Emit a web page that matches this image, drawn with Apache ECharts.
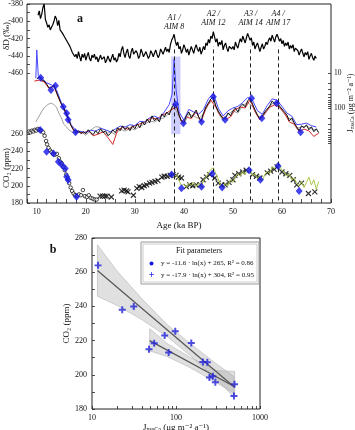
<!DOCTYPE html>
<html>
<head>
<meta charset="utf-8">
<script src="https://cdn.jsdelivr.net/npm/echarts@6/dist/echarts.min.js"></script>
<style>
html, body { margin: 0; padding: 0; background: #fff; }
#chart { width: 355px; height: 430px; }
</style>
</head>
<body>
<div id="chart"></div>
<script>
const SERIF = '"Liberation Serif", "DejaVu Serif", serif'

// ---------- panel a ----------
// EDML dD (permil), every 0.25 ka from 10.25 ka
const dDStart = 10.25
const dDStep = 0.25
const dD = [-393, -388, -397, -392, -384, -380, -398, -402,
    -407, -404, -410, -407, -404, -400, -394, -397,
    -405, -399, -410, -408, -414, -412, -419, -417,
    -424, -422, -429, -430, -436, -434, -441, -438,
    -443, -435, -441, -446, -438, -442, -437, -445,
    -440, -436, -443, -446, -439, -442, -438, -444,
    -441, -447, -443, -439, -444, -446, -441, -448,
    -445, -440, -444, -447, -442, -438, -445, -442,
    -447, -444, -437, -441, -433, -429, -437, -442,
    -436, -432, -440, -443, -435, -431, -438, -440,
    -434, -437, -443, -440, -432, -436, -441, -438,
    -435, -439, -443, -440, -434, -437, -441, -437,
    -433, -438, -442, -439, -432, -435, -438, -434,
    -430, -435, -432, -436, -427, -422, -419, -415,
    -423, -428, -424, -432, -429, -437, -433, -427,
    -431, -436, -432, -439, -434, -429, -433, -437,
    -431, -427, -432, -435, -430, -438, -434, -429,
    -433, -425, -428, -421, -425, -417, -420, -412,
    -418, -424, -420, -429, -424, -427, -422, -433,
    -428, -425, -431, -435, -429, -427, -432, -429,
    -433, -424, -428, -431, -425, -420, -424, -417,
    -421, -425, -419, -414, -418, -422, -419, -428,
    -424, -432, -428, -425, -430, -435, -430, -426,
    -432, -429, -424, -427, -422, -419, -423, -416,
    -420, -424, -418, -415, -419, -423, -420, -426,
    -422, -429, -425, -428, -424, -432, -428, -431,
    -427, -435, -431, -429, -434, -439, -435, -432,
    -437, -441, -436, -439, -435, -444, -440, -437,
    -442, -445, -440, -443]

// J nssCa (ug m-2 a-1), black record every 0.5 ka from 10 ka
const jStart = 10
const jBlack = [14.8, 13, 15.8, 16.9, 20.6, 26.8, 25.1, 22, 34.9, 51.8,
    76.8, 100, 148, 218, 323, 419, 509, 447, 543, 477,
    543, 419, 509, 580, 447, 543, 392, 509, 447, 619,
    543, 419, 509, 368, 447, 323, 419, 344, 447, 323,
    392, 283, 368, 249, 302, 205, 265, 168, 233, 192,
    249, 148, 180, 130, 158, 100, 77, 88, 158, 233,
    265, 168, 130, 192, 148, 114, 180, 233, 138, 93.5,
    72, 55, 48.5, 88, 122, 158, 205, 192, 138, 168,
    122, 100, 130, 88, 77, 93.5, 63, 52, 77, 114,
    158, 205, 168, 130, 107, 88, 63, 77, 67, 88,
    107, 130, 158, 233, 192, 265, 344, 447, 323, 368,
    302, 419, 344, 477, 392, 509]

const jRed = [[9.5, 17], [10.5, 16], [11.5, 18], [12.5, 28], [13.5, 24], [14.5, 55], [15.5, 105], [16.5, 230],
    [17.5, 440], [18.5, 480], [19.5, 520], [20.5, 450], [21.5, 620], [22.5, 560], [23.5, 480], [24.5, 700],
    [25.5, 1100], [26.5, 420], [27.5, 360], [28.5, 400], [29.5, 350], [30.5, 300], [31.5, 270], [32.5, 230],
    [33.5, 190], [34.5, 210], [35.5, 160], [36.5, 140], [37.5, 110], [38.5, 95], [39.5, 250], [40.5, 180],
    [41.5, 200], [42.5, 130], [43.5, 250], [44.5, 100], [45.5, 60], [46.5, 95], [47.5, 170], [48.5, 210],
    [49.5, 180], [50.5, 110], [51.5, 95], [52.5, 100], [53.5, 58], [54.5, 125], [55.5, 220], [56.5, 140],
    [57.5, 95], [58.5, 82], [59.5, 95], [60.5, 140], [61.5, 250], [62.5, 290], [63.5, 470], [64.5, 400],
    [65.5, 450], [66.5, 650], [67.5, 520]]

const jBlue = [[9.8, 14], [10.0, 2.2], [10.3, 12], [11, 14], [12, 19], [13, 22], [14, 30], [15, 70], [16, 130],
    [17, 300], [18, 450], [19, 470], [20, 500], [21, 430], [22, 460], [23, 380], [24, 420], [25, 480],
    [26, 400], [27, 330], [28, 350], [29, 300], [30, 320], [31, 240], [32, 250], [33, 190], [34, 170],
    [35, 200], [36, 130], [37, 80], [37.6, 40], [38.0, 4], [38.4, 30], [39, 130], [40, 220], [41, 110],
    [42, 130], [43, 150], [44, 110], [45, 55], [46, 38], [47, 100], [48, 170], [49, 120], [50, 100],
    [51, 90], [52, 70], [53, 50], [54, 60], [55, 120], [56, 150], [57, 85], [58, 55], [59, 60], [60, 90],
    [61, 140], [62, 170], [63, 300], [64, 290], [65, 270], [66, 320], [67, 350]]

const jGrey = [[9.8, 249], [10.5, 170], [11.0, 125], [11.5, 100], [12.0, 85], [12.5, 76], [13.0, 73], [13.5, 80],
    [14.0, 95], [14.5, 140], [15.0, 190], [15.5, 290], [16.0, 340], [16.5, 420], [17.0, 470], [17.5, 510],
    [18, 540], [19, 470], [20, 600], [21, 430], [22, 340], [23, 360], [24, 560], [25, 480], [26, 570],
    [27, 400], [28, 460], [29, 380], [30, 420], [31, 330], [32, 290], [33, 240], [34, 250], [35, 210],
    [36, 190], [37, 140], [38, 90], [39, 180], [40, 290], [41, 150], [42, 170], [43, 200], [44, 150],
    [45, 80], [46, 55], [47, 140], [48, 230], [49, 150], [50, 120], [51, 140], [52, 85], [53, 70],
    [54, 90], [55, 170], [56, 190], [57, 120], [58, 75], [59, 80], [60, 120], [61, 180], [62, 220],
    [63, 380], [64, 350], [65, 330], [66, 390], [67, 430]]

const jDots = [[10.8, 13.6], [12.9, 30.6], [13.8, 23.1], [15.4, 91.5], [16.1, 141], [16.4, 218], [17.9, 493],
    [38.3, 78], [39.9, 274], [43.6, 247], [46.0, 47.5], [48.4, 218], [53.8, 53], [55.9, 197], [58.9, 73], [63.8, 493]]

// CO2 (ppm)
const co2Circles = [[8.4, 263], [8.7, 262], [9.0, 264], [9.3, 263], [9.6, 265], [9.9, 264], [10.2, 266], [10.5, 265],
    [10.9, 264], [11.3, 262], [11.6, 258], [11.9, 252], [12.1, 248], [12.4, 244], [12.7, 241], [13.0, 239],
    [13.3, 237], [13.7, 236], [14.1, 237], [14.5, 232], [14.8, 228], [15.1, 226], [15.4, 222], [15.7, 218],
    [16.0, 213], [16.3, 208], [16.6, 203], [16.9, 198], [17.2, 194], [17.5, 191], [17.8, 189], [18.2, 188],
    [18.6, 190], [19.0, 189], [19.4, 195], [19.8, 188], [20.2, 187], [20.6, 189], [21.0, 186], [21.4, 185],
    [21.8, 184], [22.2, 184]]

const co2Crosses = [[22.9, 188], [23.4, 188], [23.9, 188], [24.3, 188], [25.2, 187], [27.3, 194], [27.8, 195],
    [28.3, 194], [28.6, 193], [29.7, 189], [30.4, 197], [30.9, 199], [31.4, 198], [31.9, 200], [32.4, 201],
    [33, 203], [33.5, 204], [34.1, 205], [34.7, 206], [35.5, 210], [36, 211], [36.6, 211], [37.2, 212],
    [37.8, 213], [38.4, 212], [38.9, 210], [39.5, 209], [40.5, 199], [41.2, 201], [41.8, 200], [42.5, 201],
    [43.3, 201], [43.9, 207], [44.6, 210], [45.3, 213], [46.3, 209], [47, 203], [47.7, 201], [48.4, 201],
    [49.2, 204], [50, 207], [50.4, 212], [51.2, 214], [52, 216], [52.7, 218], [54, 213], [54.8, 211],
    [55.5, 209], [57, 215], [57.7, 217], [58.4, 219], [59, 222], [60, 216], [60.8, 214], [61.6, 212],
    [62.3, 207], [63, 201], [64, 203], [65.4, 191], [66.7, 193]]

const co2Green = [[37, 212], [37.5, 216], [38, 210], [38.5, 213], [39, 206], [39.5, 200], [40, 202], [40.5, 198],
    [41, 203], [41.5, 200], [42, 204], [42.5, 199], [43, 203], [43.5, 198], [44, 206], [44.5, 210], [45, 215],
    [45.5, 219], [46, 221], [46.5, 214], [47, 208], [47.5, 200], [48, 197], [48.5, 203], [49, 200], [49.5, 207],
    [50, 204], [50.5, 210], [51, 214], [51.5, 211], [52, 217], [52.5, 213], [53, 220], [53.5, 218], [54, 212],
    [54.5, 214], [55, 208], [55.5, 212], [56, 206], [56.5, 213], [57, 217], [57.5, 214], [58, 222], [58.5, 220],
    [59, 226], [59.5, 224], [60, 218], [60.5, 216], [61, 211], [61.5, 214], [62, 207], [62.5, 209], [63, 203],
    [63.5, 200], [64, 205], [64.5, 198], [65, 204], [65.5, 210], [66, 201], [66.5, 207], [67, 196], [67.5, 205]]

const co2Dots = [[10.7, 264.6], [12.0, 239.5], [13.4, 237.6], [14.4, 228], [15.1, 224], [15.8, 220], [16.1, 210.5],
    [16.4, 206.7], [18.1, 187.3], [37.5, 213], [39.5, 197], [43.6, 199], [45.8, 214], [47.8, 198], [53.3, 218],
    [55.6, 207], [59.2, 223], [63.5, 194]]

// Antarctic warm events
const events = ['A1 /\nAIM 8', 'A2 /\nAIM 12', 'A3 /\nAIM 14', 'A4 /\nAIM 17']
const eventAge = [38.0, 46.0, 53.6, 59.2]

// tick labels
const ageLabels = [10, 20, 30, 40, 50, 60, 70]
const dDLabels = [-380, -400, -420, -440, -460]
const co2Labels = [180, 200, 220, 240, 260]
const jLabels = [10, 100]
const jTicks = [10, 20, 30, 40, 50, 60, 70, 80, 90, 100, 200, 300, 400, 500, 600, 700, 800, 900, 1000]

// ---------- panel b ----------
const bPoints = [[11.8, 264], [22.9, 238], [31.4, 240], [47.7, 215], [55, 218.4], [73.3, 223], [81.8, 213],
    [98, 225.5], [152, 218.6], [209, 207.5], [236, 207.3], [250, 198.4], [275, 199.2], [294, 195.7],
    [497, 194.5], [490, 187.6]]
const fit1 = [[11.6, 261], [490, 193]]
const fit2 = [[48.6, 220], [500, 193]]
const band1X = [11.6, 20, 40, 80, 150, 300, 490]
const band1Lo = [246, 240.5, 232, 222, 211, 197.5, 187]
const band1Hi = [276, 260.5, 244, 229, 218, 206.5, 199]
const band2X = [48.6, 80, 150, 300, 500]
const band2Lo = [214, 210.5, 204, 195.5, 189]
const band2Hi = [227, 218, 210, 202.5, 202]
const bTicksX = [10, 20, 30, 40, 50, 60, 70, 80, 90, 100, 200, 300, 400, 500, 600, 700, 800, 900, 1000]
const bLabelsX = [10, 100, 1000]
const fitText = ['y = -11.6 \u00b7 ln(x) + 265, R\u00b2 = 0.86', 'y = -17.9 \u00b7 ln(x) + 304, R\u00b2 = 0.95']

const ageTicks = []
for (let a = 8; a <= 70; a += 2) ageTicks.push(a)
const dDTicks = []
for (let v = -380; v >= -460; v -= 10) dDTicks.push(v)
const co2Ticks = []
for (let v = 180; v <= 260; v += 10) co2Ticks.push(v)
const bTicksY = []
for (let v = 180; v <= 280; v += 10) bTicksY.push(v)

const lbl = { color: '#111', fontFamily: SERIF, fontSize: 8, formatter: v => String(v) }
const tick = (vals, len) => ({ show: true, inside: true, length: len, customValues: vals, lineStyle: { color: '#222', width: 0.8 } })
const jName = '{t|J}{s|nssCa}{t| (\u03bcg m\u207b\u00b2 a\u207b\u00b9)}'
const jRich = {
    t: { fontFamily: SERIF, fontSize: 9, fill: '#111', color: '#111' },
    s: { fontFamily: SERIF, fontSize: 6, fill: '#111', color: '#111', padding: [4, 0, 0, 0] }
}
const jRichSide = {
    t: { fontFamily: SERIF, fontSize: 8, fill: '#111', color: '#111' },
    s: { fontFamily: SERIF, fontSize: 5.5, fill: '#111', color: '#111', padding: [3, 0, 0, 0] }
}
const center = { align: 'center', verticalAlign: 'middle', textAlign: 'center', textVerticalAlign: 'middle' }
const leftMid = { align: 'left', verticalAlign: 'middle', textAlign: 'left', textVerticalAlign: 'middle' }

// confidence band drawn as one polygon through the axes
const bandSeries = (xs, lo, hi) => ({
    type: 'custom', xAxisIndex: 1, yAxisIndex: 3, silent: true, z: 1,
    data: xs.map((x, i) => [x, lo[i], hi[i]]),
    encode: { x: 0, y: [1, 2] },
    renderItem: (params, api) => {
        if (params.dataIndex !== 0) return
        const pts = []
        xs.forEach((x, i) => pts.push(api.coord([x, hi[i]])))
        for (let i = xs.length - 1; i >= 0; i--) pts.push(api.coord([xs[i], lo[i]]))
        return {
            type: 'polygon', shape: { points: pts },
            style: { fill: 'rgba(165,165,165,0.35)', stroke: '#b4b4b4', lineWidth: 0.6 }
        }
    }
})

const chart = echarts.init(document.getElementById('chart'))
chart.setOption({
    animation: false,
    backgroundColor: '#fff',
    grid: [
        { left: 27, top: 4, width: 304, height: 199, show: true, borderColor: '#222', borderWidth: 1, containLabel: false, outerBoundsMode: 'none' },
        { left: 92, top: 238, width: 168, height: 171, show: true, borderColor: '#222', borderWidth: 1, containLabel: false, outerBoundsMode: 'none' }
    ],
    xAxis: [
        {
            gridIndex: 0, type: 'value', min: 8, max: 70,
            axisLine: { show: false }, splitLine: { show: false },
            axisTick: tick(ageTicks, 4),
            axisLabel: Object.assign({ customValues: ageLabels, margin: 5 }, lbl),
            name: 'Age (ka BP)', nameLocation: 'middle', nameGap: 18,
            nameTextStyle: { fontFamily: SERIF, fontSize: 9, color: '#111' }
        },
        {
            gridIndex: 1, type: 'log', logBase: 10, min: 10, max: 1000,
            axisLine: { show: false }, splitLine: { show: false },
            axisTick: tick(bTicksX, 3),
            axisLabel: Object.assign({ customValues: bLabelsX, margin: 5 }, lbl),
            name: jName, nameLocation: 'middle', nameGap: 11,
            nameTextStyle: { rich: jRich }
        }
    ],
    yAxis: [
        {
            gridIndex: 0, type: 'value', min: -610, max: -380, position: 'left',
            axisLine: { show: false }, splitLine: { show: false },
            axisTick: tick(dDTicks, 3),
            axisLabel: Object.assign({ customValues: dDLabels, margin: 4 }, lbl)
        },
        {
            gridIndex: 0, type: 'value', min: 180, max: 411, position: 'left',
            axisLine: { show: false }, splitLine: { show: false },
            axisTick: tick(co2Ticks, 3),
            axisLabel: Object.assign({ customValues: co2Labels, margin: 4 }, lbl)
        },
        {
            gridIndex: 0, type: 'log', logBase: 10, inverse: true, min: 0.107, max: 51800, position: 'right',
            axisLine: { show: false }, splitLine: { show: false },
            axisTick: tick(jTicks, 3),
            axisLabel: Object.assign({ customValues: jLabels, margin: 3 }, lbl, { fontSize: 7.5 })
        },
        {
            gridIndex: 1, type: 'value', min: 180, max: 280, interval: 20, position: 'left',
            axisLine: { show: false }, splitLine: { show: false },
            axisTick: tick(bTicksY, 3),
            axisLabel: Object.assign({ margin: 5 }, lbl),
            name: 'CO\u2082 (ppm)', nameLocation: 'middle', nameGap: 18,
            nameTextStyle: { fontFamily: SERIF, fontSize: 9, color: '#111' }
        }
    ],
    series: [
        {
            type: 'line', xAxisIndex: 0, yAxisIndex: 0, symbol: 'none',
            data: dD.map((v, i) => [dDStart + i * dDStep, v]),
            lineStyle: { color: '#000', width: 1.2 }
        },
        {
            type: 'line', xAxisIndex: 0, yAxisIndex: 2, symbol: 'none', data: jGrey,
            lineStyle: { color: '#a0a0a0', width: 1 }
        },
        {
            type: 'line', xAxisIndex: 0, yAxisIndex: 2, symbol: 'none', data: jRed,
            lineStyle: { color: '#d42a2a', width: 1 }
        },
        {
            type: 'line', xAxisIndex: 0, yAxisIndex: 2, symbol: 'none', data: jBlue,
            lineStyle: { color: '#4848ff', width: 1 },
            markArea: {
                silent: true,
                itemStyle: { color: 'rgba(130,130,255,0.4)' },
                data: [[{ xAxis: 37.4, yAxis: 3.4 }, { xAxis: 39.3, yAxis: 560 }]]
            }
        },
        {
            type: 'line', xAxisIndex: 0, yAxisIndex: 2, symbol: 'none',
            data: jBlack.map((v, i) => [jStart + i * 0.5, v]),
            lineStyle: { color: '#111', width: 1 }
        },
        {
            type: 'scatter', xAxisIndex: 0, yAxisIndex: 2, data: jDots,
            symbol: 'diamond', symbolSize: [7, 8], itemStyle: { color: '#1515e8' }, z: 5
        },
        {
            type: 'scatter', xAxisIndex: 0, yAxisIndex: 1, data: co2Circles,
            symbol: 'circle', symbolSize: 3.5,
            itemStyle: { color: '#fff', borderColor: '#000', borderWidth: 0.9 }
        },
        {
            type: 'scatter', xAxisIndex: 0, yAxisIndex: 1, data: co2Crosses,
            symbol: 'path://M0,0L10,10M10,0L0,10', symbolSize: 5,
            itemStyle: { color: 'transparent', borderColor: '#000', borderWidth: 1.2 },
            markLine: {
                silent: true, symbol: 'none', animation: false,
                lineStyle: { color: '#222', type: [4, 3], width: 1 },
                label: {
                    show: true, position: 'end', formatter: '{b}', distance: 19,
                    fontFamily: SERIF, fontStyle: 'italic', fontSize: 8, lineHeight: 9, color: '#111'
                },
                data: eventAge.map((a, i) => [
                    { name: events[i], coord: [a, 183], label: i === 0 ? { distance: 15 } : {} },
                    { coord: [a, 362] }
                ])
            }
        },
        {
            type: 'line', xAxisIndex: 0, yAxisIndex: 1, symbol: 'none', data: co2Green,
            lineStyle: { color: '#a9c94c', width: 1 }
        },
        {
            type: 'scatter', xAxisIndex: 0, yAxisIndex: 1, data: co2Dots,
            symbol: 'diamond', symbolSize: [7, 8], itemStyle: { color: '#1515e8' }, z: 5
        },
        bandSeries(band1X, band1Lo, band1Hi),
        bandSeries(band2X, band2Lo, band2Hi),
        {
            type: 'line', xAxisIndex: 1, yAxisIndex: 3, symbol: 'none', data: fit1,
            lineStyle: { color: '#555', width: 1.2 }
        },
        {
            type: 'line', xAxisIndex: 1, yAxisIndex: 3, symbol: 'none', data: fit2,
            lineStyle: { color: '#555', width: 1.2 }
        },
        {
            type: 'scatter', xAxisIndex: 1, yAxisIndex: 3, data: bPoints,
            symbol: 'path://M3.6,0H6.4V3.6H10V6.4H6.4V10H3.6V6.4H0V3.6H3.6Z', symbolSize: 7,
            itemStyle: { color: '#2020d8' }, z: 5
        }
    ],
    graphic: [
        { type: 'text', x: 80, y: 19, style: Object.assign({ text: 'a', font: 'bold 12px ' + SERIF, fill: '#111' }, center) },
        { type: 'text', x: 53, y: 250, style: Object.assign({ text: 'b', font: 'bold 12px ' + SERIF, fill: '#111' }, center) },
        { type: 'text', x: 7, y: 36, rotation: Math.PI / 2, style: Object.assign({ text: '\u03b4D (\u2030)', font: '9px ' + SERIF, fill: '#111' }, center) },
        { type: 'text', x: 7, y: 168, rotation: Math.PI / 2, style: Object.assign({ text: 'CO\u2082 (ppm)', font: '9px ' + SERIF, fill: '#111' }, center) },
        { type: 'text', x: 351, y: 103, rotation: Math.PI / 2, style: Object.assign({ text: jName, rich: jRichSide, fill: '#111' }, center) },
        { type: 'rect', shape: { x: 141, y: 242, width: 118, height: 42 }, style: { fill: '#fff', stroke: '#999', lineWidth: 1 }, z: 10 },
        { type: 'rect', shape: { x: 143, y: 244, width: 114, height: 38 }, style: { fill: 'none', stroke: '#ccc', lineWidth: 1 }, z: 10 },
        { type: 'text', x: 199, y: 251, z: 11, style: Object.assign({ text: 'Fit parameters', font: '8px ' + SERIF, fill: '#111' }, center) },
        { type: 'circle', shape: { cx: 151.5, cy: 263.5, r: 2 }, style: { fill: '#1515e8' }, z: 11 },
        { type: 'text', x: 151.5, y: 275, z: 11, style: Object.assign({ text: '+', font: 'bold 10px ' + SERIF, fill: '#1515e8' }, center) },
        { type: 'text', x: 161, y: 263.5, z: 11, style: Object.assign({ text: fitText[0], font: '7px ' + SERIF, fill: '#111' }, leftMid) },
        { type: 'text', x: 161, y: 275, z: 11, style: Object.assign({ text: fitText[1], font: '7px ' + SERIF, fill: '#111' }, leftMid) }
    ]
})
</script>
</body>
</html>
